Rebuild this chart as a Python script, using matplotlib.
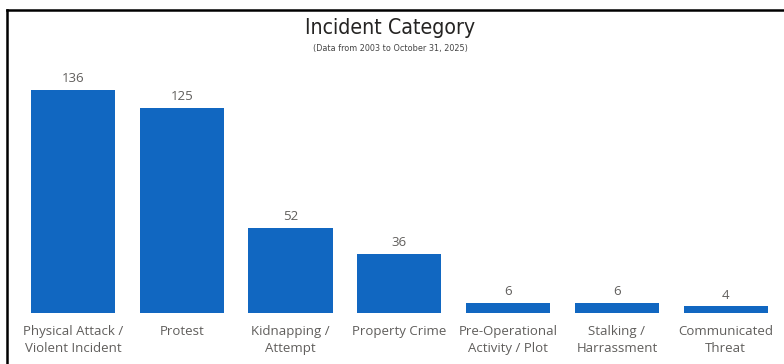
import matplotlib.pyplot as plt
from matplotlib.lines import Line2D

categories = ["Physical Attack /\nViolent Incident", "Protest", "Kidnapping /\nAttempt",
              "Property Crime", "Pre-Operational\nActivity / Plot", "Stalking /\nHarrassment",
              "Communicated\nThreat"]
counts = [136, 125, 52, 36, 6, 6, 4]

bar_color = "#1167C1"
text_grey = "#605E5C"

fig = plt.figure(figsize=(7.84, 3.64), dpi=100)
ax = fig.add_axes([0.0237, 0.140, 0.9713, 0.613])

x = range(len(categories))
bars = ax.bar(x, counts, width=0.775, color=bar_color)
ax.set_xlim(-0.5, len(categories) - 0.5)
ax.set_ylim(0, max(counts))

for b, v in zip(bars, counts):
    ax.annotate(str(v), (b.get_x() + b.get_width() / 2, v), xytext=(0, 3.5),
                textcoords="offset points", ha="center", va="bottom",
                fontsize=9.5, color=text_grey, family=["Open Sans", "DejaVu Sans"])

ax.set_xticks(list(x))
ax.set_xticklabels(categories, fontsize=9.5, color=text_grey,
                   family=["Open Sans", "DejaVu Sans"], linespacing=1.4)
ax.tick_params(axis="x", length=0, pad=8.5)
ax.set_yticks([])
for s in ax.spines.values():
    s.set_visible(False)

fig.text(0.498, 0.923, "Incident Category", ha="center", va="center",
         fontsize=15.3, color="#252423", family="DejaVu Sans", fontstretch="condensed")
fig.text(0.498, 0.868, "(Data from 2003 to October 31, 2025)", ha="center", va="center",
         fontsize=6.5, color="#444444", family="DejaVu Sans", fontstretch="condensed")

# frame on the top and left edges
fig.add_artist(Line2D([7 / 784, 1], [1 - 10 / 364] * 2, color="black", lw=1.8))
fig.add_artist(Line2D([7 / 784] * 2, [0, 1 - 10 / 364], color="black", lw=1.8))

fig.savefig("out.png", dpi=100)
